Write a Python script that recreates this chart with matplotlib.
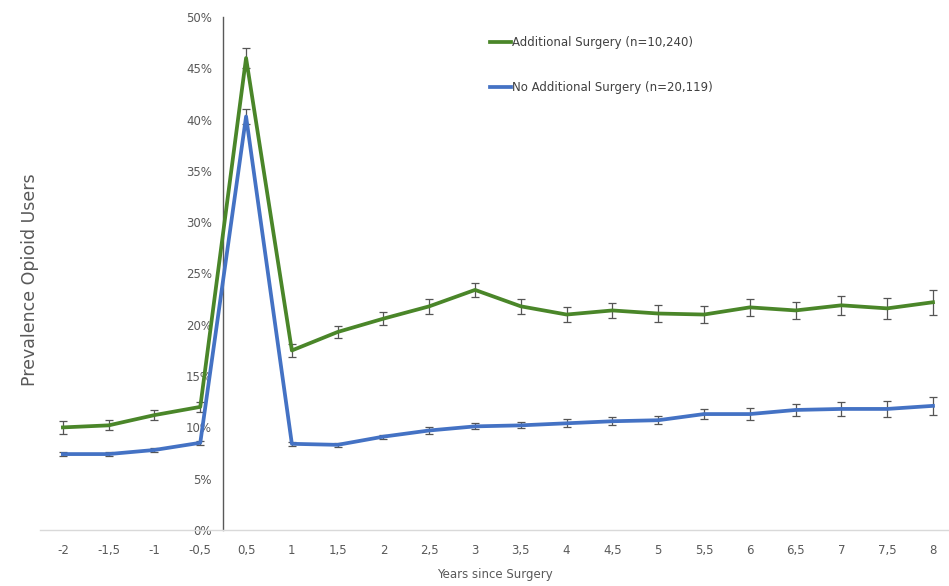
import matplotlib
matplotlib.use('Agg')
import matplotlib.pyplot as plt
from matplotlib.lines import Line2D
from matplotlib.ticker import FuncFormatter

# Prevalence (%) of opioid users per half year around surgery
years = ['-2', '-1,5', '-1', '-0,5', '0,5', '1', '1,5', '2', '2,5', '3',
         '3,5', '4', '4,5', '5', '5,5', '6', '6,5', '7', '7,5', '8']
additional = [10.0, 10.2, 11.2, 12.0, 46.0, 17.5, 19.3, 20.6, 21.8, 23.4,
              21.8, 21.0, 21.4, 21.1, 21.0, 21.7, 21.4, 21.9, 21.6, 22.2]
additional_err = [0.6, 0.5, 0.5, 0.5, 1.0, 0.6, 0.6, 0.6, 0.7, 0.7,
                  0.7, 0.7, 0.7, 0.8, 0.8, 0.8, 0.8, 0.9, 1.0, 1.2]
no_additional = [7.4, 7.4, 7.8, 8.5, 40.3, 8.4, 8.3, 9.1, 9.7, 10.1,
                 10.2, 10.4, 10.6, 10.7, 11.3, 11.3, 11.7, 11.8, 11.8, 12.1]
no_additional_err = [0.2, 0.2, 0.2, 0.2, 0.7, 0.2, 0.2, 0.2, 0.3, 0.3,
                     0.3, 0.4, 0.4, 0.4, 0.5, 0.6, 0.6, 0.7, 0.8, 0.9]
labels = ['Additional Surgery (n=10,240)', 'No Additional Surgery (n=20,119)']
colors = ['#4a8629', '#4472c4']

plt.rcParams['font.family'] = ['Liberation Sans Narrow', 'DejaVu Sans']

fig = plt.figure(figsize=(9.49, 5.86), dpi=100)
ax = fig.add_axes([40 / 949, 56 / 586, 909 / 949, 513 / 586])

x = list(range(len(years)))
ax.errorbar(x, additional, yerr=additional_err, color=colors[0], lw=2.7,
            ecolor='#555555', elinewidth=0.9, capsize=3, capthick=0.9,
            zorder=3)
ax.errorbar(x, no_additional, yerr=no_additional_err, color=colors[1], lw=2.7,
            ecolor='#555555', elinewidth=0.9, capsize=3, capthick=0.9,
            zorder=3)

ax.set_xlim(-0.5, 19.35)
ax.set_ylim(0, 50)
ax.set_yticks(range(0, 51, 5))
ax.yaxis.set_major_formatter(FuncFormatter(lambda v, p: f'{int(v)}%'))
ax.set_xticks(x)
ax.set_xticklabels(years)

# vertical axis sits between -0,5 and 0,5
ax.spines['left'].set_position(('data', 3.5))
ax.spines['left'].set_color('#595959')
ax.spines['left'].set_linewidth(1.0)
ax.spines['bottom'].set_color('#d9d9d9')
ax.spines['bottom'].set_linewidth(1.0)
ax.spines['top'].set_visible(False)
ax.spines['right'].set_visible(False)

ax.tick_params(axis='y', length=0, pad=8, labelsize=8.5, labelcolor='#595959')
ax.tick_params(axis='x', length=0, pad=10, labelsize=8.5, labelcolor='#595959')

ax.set_xlabel('Years since Surgery', fontsize=8.5, color='#595959', labelpad=8)
fig.text(30 / 949, 1 - 280 / 586, 'Prevalence Opioid Users', rotation=90,
         ha='center', va='center', fontsize=12.5, color='#595959')

handles = [Line2D([], [], color=c, lw=2.7) for c in colors]
leg = ax.legend(handles, labels, loc='upper left',
                bbox_to_anchor=(490 / 949, 1 - 36 / 586),
                bbox_transform=fig.transFigure, frameon=False, fontsize=8.5,
                handlelength=1.8, handletextpad=0.1, labelspacing=2.75,
                borderpad=0, borderaxespad=0)
for t in leg.get_texts():
    t.set_color('#404040')

fig.savefig('out.png', dpi=100)
